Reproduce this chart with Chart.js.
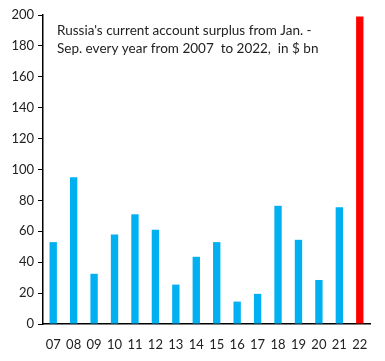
<!DOCTYPE html>
<html>
<head>
<meta charset="utf-8">
<script src="https://cdn.jsdelivr.net/npm/chart.js@4"></script>
<style>
  html, body { margin: 0; padding: 0; background: #fff; }
  #wrap { width: 385px; height: 361px; }
</style>
</head>
<body>
<div id="wrap"><canvas id="grafica" width="385" height="361"></canvas></div>
<script>
    var anios = ['07', '08', '09', '10', '11', '12', '13', '14', '15', '16', '17', '18', '19', '20', '21', '22'];
    var superavit = [53, 95, 32.5, 58, 71, 61, 25.5, 43.5, 53, 14.5, 19.5, 76.5, 54.5, 28.5, 75.5, 199];
    var colores = ['#00B0F0', '#00B0F0', '#00B0F0', '#00B0F0', '#00B0F0', '#00B0F0', '#00B0F0', '#00B0F0',
                   '#00B0F0', '#00B0F0', '#00B0F0', '#00B0F0', '#00B0F0', '#00B0F0', '#00B0F0', '#FF0000'];
    var titulo = ["Russia's current account surplus from Jan. -", 'Sep. every year from 2007  to 2022,  in $ bn'];

    var fuente = 'Lato, "Open Sans", sans-serif';

    // Plugin para escribir el título dentro del área de la gráfica
    var pluginTitulo = {
        id: 'titulo',
        afterDraw: function (chart) {
            var ctx = chart.ctx;
            ctx.save();
            ctx.fillStyle = '#222';
            ctx.font = '13.5px ' + fuente;
            ctx.textBaseline = 'alphabetic';
            ctx.fillText(titulo[0], 57, 35);
            ctx.fillText(titulo[1], 57, 53);
            ctx.restore();
        }
    };

    var ctx = document.getElementById('grafica').getContext('2d');
    var grafica = new Chart(ctx, {
        type: 'bar',
        data: {
            labels: anios,
            datasets: [{
                data: superavit,
                backgroundColor: colores,
                borderWidth: 0,
                categoryPercentage: 1,
                barPercentage: 0.36
            }]
        },
        options: {
            responsive: false,
            animation: false,
            layout: { padding: { left: 0, right: 15, top: 15, bottom: 0 } },
            plugins: { legend: { display: false }, tooltip: { enabled: false } },
            scales: {
                x: {
                    afterFit: function (scale) { scale.height = 37; },
                    grid: { display: false },
                    border: { display: true, color: '#000', width: 1.5 },
                    ticks: { color: '#222', font: { family: fuente, size: 13 }, padding: 5, maxRotation: 0 }
                },
                y: {
                    min: 0,
                    max: 200,
                    afterFit: function (scale) { scale.width = 43; },
                    grid: { drawOnChartArea: false, tickLength: 5, color: '#000' },
                    border: { display: true, color: '#000', width: 1.5 },
                    ticks: { stepSize: 20, color: '#222', font: { family: fuente, size: 13 }, padding: 4 }
                }
            }
        },
        plugins: [pluginTitulo]
    });
</script>
</body>
</html>
